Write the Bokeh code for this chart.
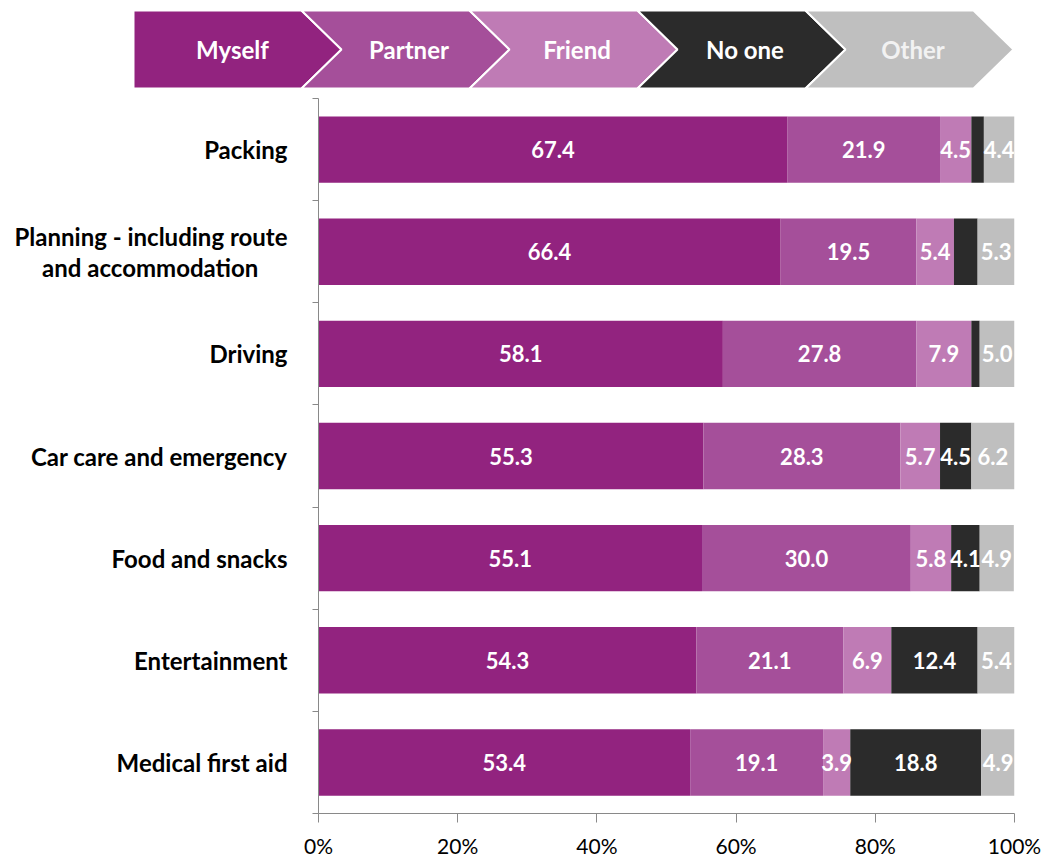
from bokeh.plotting import figure
from bokeh.models import Range1d, FixedTicker, ColumnDataSource
from bokeh.layouts import column
from bokeh.core.properties import value
from bokeh.embed import file_html
from bokeh.resources import INLINE

categories = ["Packing", "Planning - including route\nand accommodation\u00a0\u00a0\u00a0\u00a0\u00a0", "Driving",
              "Car care and emergency", "Food and snacks", "Entertainment", "Medical first aid"]
series = ["Myself", "Partner", "Friend", "No one", "Other"]
myself = [67.4, 66.4, 58.1, 55.3, 55.1, 54.3, 53.4]
partner = [21.9, 19.5, 27.8, 28.3, 30.0, 21.1, 19.1]
friend = [4.5, 5.4, 7.9, 5.7, 5.8, 6.9, 3.9]
no_one = [1.8, 3.4, 1.2, 4.5, 4.1, 12.4, 18.8]
other = [4.4, 5.3, 5.0, 6.2, 4.9, 5.4, 4.9]
x_ticks = [0, 20, 40, 60, 80, 100]

colors = ["#92237F", "#A54F9A", "#BF7BB5", "#2B2B2B", "#BFBFBF"]
legend_text_colors = ["white", "white", "white", "white", "#F2F2F2"]
FONT = "Lato"
W = 1041

# ---------- legend (chevrons) ----------
LH = 92
leg = figure(width=W, height=LH, x_range=Range1d(0, W), y_range=Range1d(LH, 0),
             output_backend="svg", toolbar_location=None, min_border=0,
             x_axis_location=None, y_axis_location=None, outline_line_color=None,
             frame_align=False)
leg.xgrid.visible = False
leg.ygrid.visible = False
x_start, pitch, tip, top, bot = 133, 168, 40, 10, 88
mid = (top + bot) / 2
xs, ys, tx, ty = [], [], [], []
for i, s in enumerate(series):
    x0 = x_start + i * pitch
    x1 = x0 + pitch
    px = [x0, x1, x1 + tip, x1, x0]
    py = [top, top, mid, bot, bot]
    if i > 0:
        px.append(x0 + tip)
        py.append(mid)
    xs.append(px)
    ys.append(py)
    tx.append(x0 + (99 if i == 0 else 107.5))
    ty.append(mid)
leg.patches(xs, ys, fill_color=colors, line_color="white", line_width=2)
leg.text(tx, ty, text=series, text_color=legend_text_colors, text_align="center",
         text_baseline="middle", text_font=value(FONT), text_font_style="bold",
         text_font_size="24px")

# ---------- main chart ----------
n = len(categories)
ys_c = [i + 0.5 for i in range(n)]
data = dict(y=ys_c, Myself=myself, Partner=partner, Friend=friend)
data["No one"] = no_one
data["Other"] = other
src = ColumnDataSource(data)

p = figure(frame_width=696, frame_height=715, x_range=Range1d(0, 100), y_range=Range1d(n, 0),
           output_backend="svg", toolbar_location=None,
           min_border_left=318, min_border_right=W - 1014, min_border_top=98 - LH,
           min_border_bottom=44, outline_line_color=None, frame_align=False)
p.xgrid.visible = False
p.ygrid.visible = False
p.hbar_stack(series, y="y", height=0.65, color=colors, source=src, line_color=None)

# segment labels
lx, ly, lt = [], [], []
vals = [myself, partner, friend, no_one, other]
for r in range(n):
    left = 0.0
    for k in range(len(series)):
        v = vals[k][r]
        if v >= 3.5:
            lx.append(left + v / 2)
            ly.append(ys_c[r])
            lt.append(f"{v:.1f}")
        left += v
p.text(lx, ly, text=lt, text_color="white", text_align="center", text_baseline="middle",
       text_font=value(FONT), text_font_style="bold", text_font_size="22px")

axis_col = "#898989"
xa = p.xaxis[0]
xa.ticker = FixedTicker(ticks=x_ticks, minor_ticks=[])
xa.major_label_overrides = {t: f"{t}%" for t in x_ticks}
xa.axis_line_color = axis_col
xa.major_tick_line_color = axis_col
xa.major_tick_in = 0
xa.major_tick_out = 9
xa.minor_tick_line_color = None
xa.major_label_text_font = FONT
xa.major_label_text_font_size = "21px"
xa.major_label_text_color = "black"
xa.major_label_standoff = 10

ya = p.yaxis[0]
ya.ticker = FixedTicker(ticks=ys_c, minor_ticks=list(range(n + 1)))
ya.major_label_overrides = {y: c for y, c in zip(ys_c, categories)}
ya.axis_line_color = axis_col
ya.major_tick_line_color = None
ya.major_tick_in = 0
ya.major_tick_out = 0
ya.minor_tick_line_color = axis_col
ya.minor_tick_in = 0
ya.minor_tick_out = 6
ya.major_label_text_font = FONT
ya.major_label_text_font_style = "bold"
ya.major_label_text_font_size = "24px"
ya.major_label_text_color = "black"
ya.major_label_text_line_height = 1.08
ya.major_label_standoff = 25

layout = column(leg, p, spacing=0)
open("out.html", "w").write(file_html(layout, INLINE))
